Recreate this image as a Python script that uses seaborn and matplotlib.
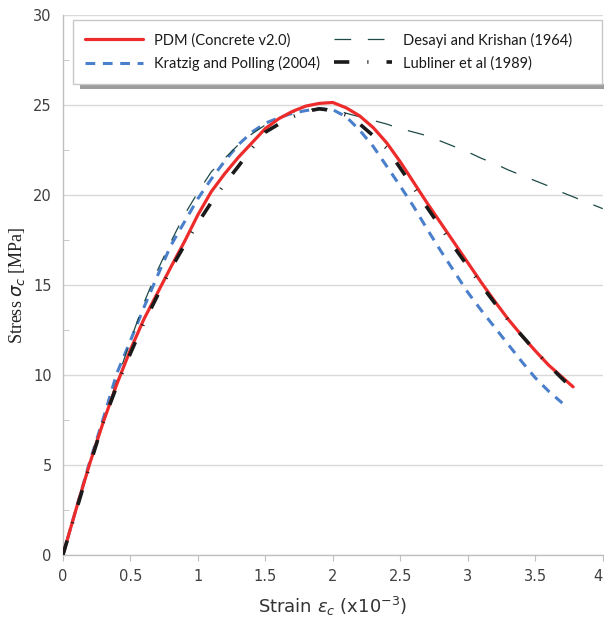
import matplotlib
matplotlib.use("Agg")
import matplotlib.pyplot as plt
import matplotlib.ticker as mticker
from matplotlib.patches import Rectangle
import numpy as np
import seaborn as sns

# strain values (x10^-3) and stress values (MPa)
pdm_strain = [0, 0.1, 0.2, 0.3, 0.4, 0.5, 0.6, 0.7, 0.8, 0.9, 1.0, 1.1, 1.2, 1.3, 1.4,
              1.5, 1.6, 1.7, 1.8, 1.9, 2.0, 2.1, 2.2, 2.3, 2.4, 2.5, 2.6, 2.7, 2.8,
              2.9, 3.0, 3.1, 3.2, 3.3, 3.4, 3.5, 3.6, 3.7, 3.78]
pdm_stress = [0, 2.6, 5.1, 7.4, 9.5, 11.4, 13.1, 14.55, 16.0, 17.4, 18.9, 20.2, 21.2,
              22.1, 22.9, 23.7, 24.25, 24.65, 24.95, 25.1, 25.15, 24.85, 24.4, 23.75,
              22.9, 21.85, 20.7, 19.55, 18.45, 17.35, 16.25, 15.15, 14.1, 13.1, 12.2,
              11.35, 10.55, 9.88, 9.35]

kp_strain = [0, 0.1, 0.2, 0.3, 0.4, 0.5, 0.6, 0.7, 0.8, 0.9, 1.0, 1.1, 1.2, 1.3, 1.4,
             1.5, 1.6, 1.7, 1.8, 1.9, 2.0, 2.1, 2.2, 2.3, 2.4, 2.5, 2.6, 2.7, 2.8,
             2.9, 3.0, 3.1, 3.2, 3.3, 3.4, 3.5, 3.6, 3.7]
kp_stress = [0, 2.6, 5.2, 7.6, 10.1, 11.9, 13.75, 15.5, 17.2, 18.5, 19.8, 20.9, 21.9,
             22.8, 23.5, 24.0, 24.3, 24.55, 24.7, 24.8, 24.75, 24.35, 23.6, 22.7, 21.6,
             20.5, 19.35, 18.1, 16.9, 15.75, 14.6, 13.6, 12.65, 11.7, 10.75, 9.85, 9.1,
             8.45]

ds_strain = [0, 0.1, 0.2, 0.3, 0.4, 0.5, 0.6, 0.7, 0.8, 0.9, 1.0, 1.1, 1.2, 1.3, 1.4,
             1.5, 1.6, 1.7, 1.8, 1.9, 2.0, 2.1, 2.2, 2.3, 2.4, 2.5, 2.6, 2.7, 2.8,
             2.9, 3.0, 3.1, 3.2, 3.3, 3.4, 3.5, 3.6, 3.7, 3.8, 3.9, 4.0]
ds_stress = [0, 2.5, 5.0, 7.4, 9.7, 11.9, 14.0, 15.8, 17.4, 18.9, 20.15, 21.3, 22.05,
             22.8, 23.4, 23.9, 24.3, 24.6, 24.75, 24.8, 24.8, 24.55, 24.35, 24.15,
             23.95, 23.7, 23.5, 23.3, 23.0, 22.7, 22.4, 22.05, 21.75, 21.4, 21.1, 20.8,
             20.5, 20.15, 19.85, 19.55, 19.25]

lub_strain = [0, 0.1, 0.2, 0.3, 0.4, 0.5, 0.6, 0.7, 0.8, 0.9, 1.0, 1.1, 1.2, 1.3, 1.4,
              1.5, 1.6, 1.7, 1.8, 1.9, 2.0, 2.1, 2.2, 2.3, 2.4, 2.5, 2.6, 2.7, 2.8,
              2.9, 3.0, 3.1, 3.2, 3.3, 3.4, 3.5, 3.6, 3.7, 3.785]
lub_stress = [0, 2.5, 5.0, 7.4, 9.4, 11.2, 12.9, 14.4, 15.9, 17.2, 18.45, 19.6, 20.65,
              21.6, 22.6, 23.5, 23.95, 24.35, 24.65, 24.8, 24.7, 24.45, 23.95, 23.3,
              22.6, 21.5, 20.4, 19.3, 18.2, 17.1, 16.05, 15.0, 14.0, 13.05, 12.2, 11.35,
              10.55, 9.8, 9.2]

x_ticks = [0, 0.5, 1, 1.5, 2, 2.5, 3, 3.5, 4]
x_tick_labels = ["0", "0.5", "1", "1.5", "2", "2.5", "3", "3.5", "4"]
y_ticks = [0, 5, 10, 15, 20, 25, 30]

sns.set_style("white")
plt.rcParams["font.family"] = ["DejaVu Sans"]
plt.rcParams["lines.scale_dashes"] = False

fig, ax = plt.subplots(figsize=(6.04, 6.33), dpi=100)
fig.subplots_adjust(left=0.104, right=0.998, bottom=0.123, top=0.976)

# the four stress-strain curves
sns.lineplot(x=pdm_strain, y=pdm_stress, ax=ax, color="#ee2b2b", linewidth=2.3,
             label="PDM (Concrete v2.0)", zorder=3)
sns.lineplot(x=kp_strain, y=kp_stress, ax=ax, color="#4a7fcb", linewidth=2.2,
             linestyle=(0, (7, 5.5)), label="Kratzig and Polling (2004)", zorder=2)
sns.lineplot(x=ds_strain, y=ds_stress, ax=ax, color="#1d4b47", linewidth=0.9,
             linestyle=(0, (12, 12)), label="Desayi and Krishan (1964)", zorder=2)
sns.lineplot(x=lub_strain, y=lub_stress, ax=ax, color="#1a1a1a", linewidth=2.6,
             linestyle=(0, (11, 13, 0.8, 13)), label="Lubliner et al (1989)", zorder=4)
for ln in ax.get_lines():
    ln.set_dash_capstyle("butt")

ax.set_xlim(0, 4)
ax.set_ylim(0, 30)
ax.set_xticks(x_ticks)
ax.set_xticklabels(x_tick_labels)
ax.get_xticklabels()[-1].set_horizontalalignment("right")
ax.set_yticks(y_ticks)
ax.yaxis.set_minor_locator(mticker.MultipleLocator(2.5))
ax.grid(axis="y", color="#d9d9d9", linewidth=1)
ax.set_axisbelow(True)

for side in ["top", "right"]:
    ax.spines[side].set_visible(False)
for side in ["left", "bottom"]:
    ax.spines[side].set_color("#bfbfbf")
    ax.spines[side].set_linewidth(1)

ax.tick_params(axis="x", which="major", direction="out", length=4, color="#bfbfbf",
               labelsize=10.5, labelcolor="#404040", pad=6, bottom=True)
ax.tick_params(axis="y", which="major", length=0, labelsize=10.5,
               labelcolor="#404040", pad=8, left=True)
ax.tick_params(axis="y", which="minor", direction="in", length=4, color="#bfbfbf",
               left=True)

ax.set_xlabel(r"Strain $\varepsilon_c$ (x10$^{-3}$)", fontsize=13, color="#333333",
              labelpad=8)
ax.set_ylabel(r"Stress $\sigma_c$ [MPa]", fontsize=13, color="#222222",
              family="Liberation Serif", labelpad=4)

# legend without frame; box and bottom shadow drawn afterwards
handles, labels = ax.get_legend_handles_labels()
leg = ax.legend(handles, labels, loc="upper left", ncol=2,
                bbox_to_anchor=(0.0185, 0.991), borderaxespad=0,
                prop={"family": "Lato", "size": 10.5}, handlelength=3.95,
                handletextpad=0.75, columnspacing=1.0, borderpad=0.85,
                labelspacing=0.6, frameon=False)
for t in leg.get_texts():
    t.set_color("#1a1a1a")

fig.canvas.draw()
bb = leg.get_window_extent()
ab = ax.get_window_extent()
w = ab.x1 - bb.x0 - 1
ax.add_patch(Rectangle((bb.x0 + 7, bb.y0 - 5), w, 5, transform=None,
                       facecolor="#9c9c9c", edgecolor="none", zorder=4.7,
                       clip_on=False))
ax.add_patch(Rectangle((bb.x0, bb.y0), w, bb.height, transform=None,
                       facecolor="white", edgecolor="#c8c8c8", linewidth=1,
                       zorder=4.8, clip_on=False))

fig.savefig("out.png", dpi=100)
